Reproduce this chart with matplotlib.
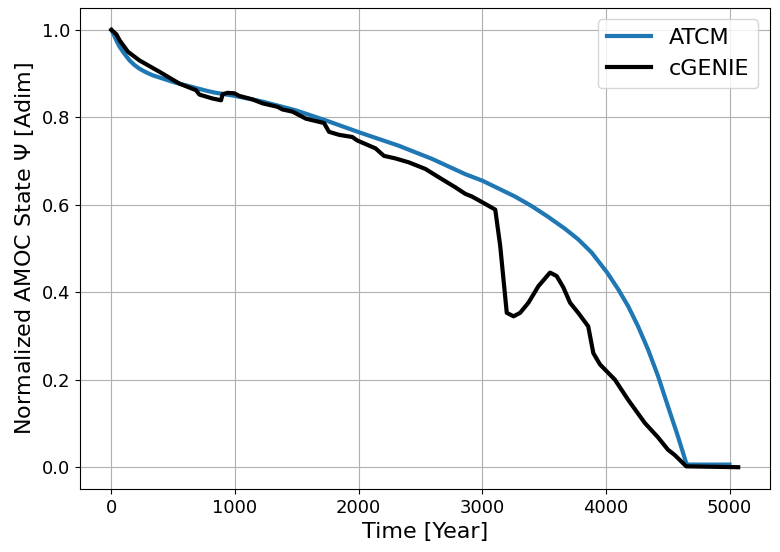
import numpy as np
import matplotlib
matplotlib.use("Agg")
import matplotlib.pyplot as plt

# ATCM model
t_atcm = [0, 20, 40, 65, 94, 120, 148, 185, 228, 280, 335, 390, 444, 510, 577,
          645, 712, 780, 847, 1000, 1223, 1492, 1734, 2002, 2325, 2594, 2863,
          3002, 3264, 3400, 3535, 3670, 3776, 3884, 4010, 4099, 4180, 4260,
          4341, 4422, 4502, 4583, 4650, 4665, 5000]
psi_atcm = [1.0, 0.989, 0.976, 0.962, 0.950, 0.940, 0.930, 0.920, 0.911, 0.903,
            0.896, 0.891, 0.886, 0.880, 0.875, 0.870, 0.865, 0.860, 0.856,
            0.849, 0.836, 0.816, 0.793, 0.766, 0.735, 0.705, 0.670, 0.655,
            0.619, 0.597, 0.572, 0.545, 0.521, 0.491, 0.445, 0.407, 0.368,
            0.322, 0.269, 0.208, 0.139, 0.070, 0.009, 0.006, 0.006]

# cGENIE run
t_gen = [0, 40, 67, 134, 228, 390, 551, 685, 712, 819, 887,
         900, 940, 994, 1035, 1142, 1223, 1344, 1384, 1465, 1573, 1720, 1760,
         1841, 1949, 1989, 2137, 2204, 2298, 2406, 2540, 2648, 2782, 2863,
         2916, 3024, 3105, 3145, 3198, 3253, 3306, 3373, 3454, 3548, 3602,
         3656, 3710, 3776, 3857, 3898, 3952, 4073, 4180, 4315, 4422, 4502,
         4556, 4650, 5070]
psi_gen = [1.0, 0.990, 0.976, 0.950, 0.930, 0.904, 0.877, 0.862, 0.852, 0.843,
           0.839, 0.853, 0.856, 0.855, 0.849,
           0.841, 0.832, 0.824, 0.818, 0.813, 0.797, 0.787, 0.767, 0.760,
           0.755, 0.747, 0.729, 0.712, 0.706, 0.697, 0.682, 0.663, 0.640,
           0.625, 0.619, 0.602, 0.589, 0.506, 0.353, 0.345, 0.353, 0.376,
           0.414, 0.445, 0.437, 0.411, 0.376, 0.353, 0.322, 0.261, 0.235,
           0.200, 0.154, 0.101, 0.068, 0.040, 0.028, 0.002, 0.0]

fig = plt.figure(figsize=(7.8, 5.52), dpi=100)
ax = fig.add_axes([0.1026, 0.114, 0.884, 0.8715])

ax.plot(t_atcm, psi_atcm, color='#1f77b4', lw=3, label='ATCM')
ax.plot(t_gen, psi_gen, color='black', lw=3, label='cGENIE')

ax.set_xlabel('Time [Year]', fontsize=16)
ax.set_ylabel('Normalized AMOC State $\\Psi$ [Adim]', fontsize=16)
ax.tick_params(labelsize=13)
ax.grid(True)
ax.legend(loc='upper right', fontsize=16)

fig.savefig('out.png', dpi=100)
